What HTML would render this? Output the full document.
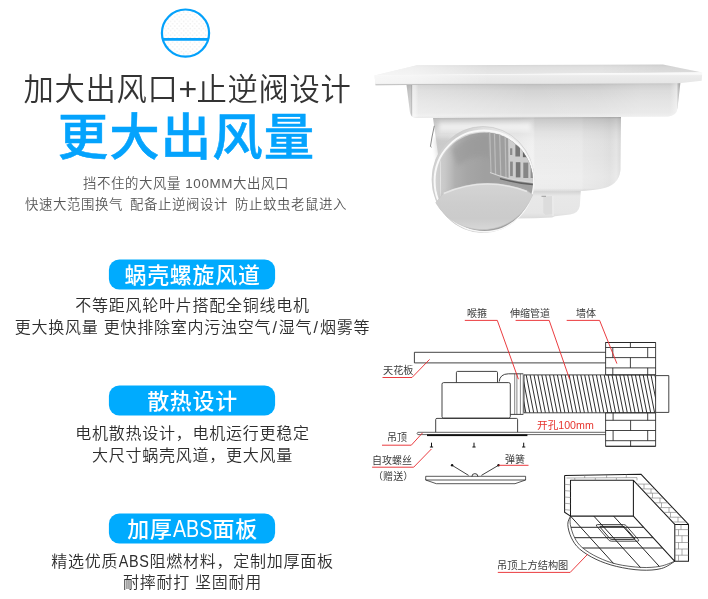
<!DOCTYPE html>
<html lang="zh-CN">
<head>
<meta charset="utf-8">
<title>加大出风口+止逆阀设计</title>
<style>
html,body{margin:0;padding:0;background:#fff;}
body{width:708px;height:599px;position:relative;overflow:hidden;font-family:"Liberation Sans","Noto Sans CJK SC",sans-serif;color:#333;}
.t,.pill{will-change:transform;}
.t{position:absolute;white-space:nowrap;text-align:center;line-height:1;}
.h1{left:1px;width:373px;top:73px;font-size:30.3px;letter-spacing:0.7px;font-weight:350;color:#333;}
.h2{left:1px;width:371px;top:113.4px;font-size:50.4px;letter-spacing:1.1px;font-weight:500;-webkit-text-stroke:0.55px #04a3fd;color:#04a3fd;}
.sub{left:0.3px;width:372px;font-size:13.4px;letter-spacing:0.6px;font-weight:350;color:#585858;}
.pill{position:absolute;left:108.8px;width:166.3px;height:30px;font-weight:500;color:#fff;font-size:21.9px;letter-spacing:0.8px;text-indent:0.8px;text-align:center;line-height:32.2px;white-space:nowrap;overflow:hidden;}
.lb{font-size:10px;font-weight:400;color:#3c3c3c;text-align:left;}
.red{color:#e6352f;font-size:10.65px;font-weight:400;}
.abs{display:inline-block;transform:scale(0.9,1.05);transform-origin:50% 72%;margin:0 -0.095em;line-height:1;}
.pill .abs{letter-spacing:0;margin:0 -0.09em 0 -0.13em;}
.sl{padding:0 1.2px;}
.d{left:0.4px;width:385px;font-size:16px;letter-spacing:0.75px;font-weight:350;color:#2e2e2e;}
</style>
</head>
<body>
<svg style="position:absolute;left:0;top:0" width="708" height="599" viewBox="0 0 708 599">

  <defs>
    <linearGradient id="gTop" x1="0" y1="0" x2="0" y2="1"><stop offset="0" stop-color="#d6d6d6"/><stop offset="0.25" stop-color="#e0e0e0"/><stop offset="1" stop-color="#e8e8e8"/></linearGradient>
    <linearGradient id="gPanelH" gradientUnits="userSpaceOnUse" x1="374" y1="0" x2="703" y2="0"><stop offset="0" stop-color="#fff" stop-opacity="0.6"/><stop offset="0.12" stop-color="#fff" stop-opacity="0.5"/><stop offset="0.35" stop-color="#fff" stop-opacity="0"/><stop offset="1" stop-color="#fff" stop-opacity="0"/></linearGradient>
    <linearGradient id="gTopR" gradientUnits="userSpaceOnUse" x1="600" y1="0" x2="703" y2="0"><stop offset="0" stop-color="#000" stop-opacity="0"/><stop offset="0.6" stop-color="#000" stop-opacity="0.04"/><stop offset="1" stop-color="#000" stop-opacity="0.05"/></linearGradient>
    <linearGradient id="gRing" gradientUnits="userSpaceOnUse" x1="432" y1="0" x2="534" y2="0"><stop offset="0" stop-color="#d2d2d2"/><stop offset="0.25" stop-color="#cccccc"/><stop offset="0.5" stop-color="#dedede"/><stop offset="0.8" stop-color="#ececec"/><stop offset="1" stop-color="#eeeeee"/></linearGradient>
    <linearGradient id="gFront" x1="0" y1="0" x2="0" y2="1"><stop offset="0" stop-color="#fbfbfb"/><stop offset="0.16" stop-color="#f8f8f8"/><stop offset="0.26" stop-color="#ececec"/><stop offset="0.85" stop-color="#e6e6e6"/><stop offset="0.93" stop-color="#c8c8c8"/><stop offset="1" stop-color="#a8a8a8"/></linearGradient>
    <linearGradient id="gTrayV" gradientUnits="userSpaceOnUse" x1="0" y1="84" x2="0" y2="118"><stop offset="0" stop-color="#bcbcbc"/><stop offset="0.06" stop-color="#c8c8c8"/><stop offset="0.2" stop-color="#d3d3d3"/><stop offset="0.5" stop-color="#dddddd"/><stop offset="0.85" stop-color="#e5e5e5"/><stop offset="0.95" stop-color="#ececec"/><stop offset="1" stop-color="#c4c4c4"/></linearGradient>
    <linearGradient id="gTrayH" gradientUnits="userSpaceOnUse" x1="406" y1="0" x2="681" y2="0"><stop offset="0" stop-color="#000" stop-opacity="0.1"/><stop offset="0.018" stop-color="#000" stop-opacity="0.06"/><stop offset="0.024" stop-color="#fff" stop-opacity="0.6"/><stop offset="0.034" stop-color="#fff" stop-opacity="0.55"/><stop offset="0.045" stop-color="#fff" stop-opacity="0.3"/><stop offset="0.15" stop-color="#fff" stop-opacity="0.22"/><stop offset="0.45" stop-color="#fff" stop-opacity="0"/><stop offset="0.7" stop-color="#fff" stop-opacity="0.05"/><stop offset="0.85" stop-color="#fff" stop-opacity="0.2"/><stop offset="0.96" stop-color="#fff" stop-opacity="0.2"/><stop offset="0.985" stop-color="#fff" stop-opacity="0.5"/><stop offset="1" stop-color="#000" stop-opacity="0.06"/></linearGradient>
    <linearGradient id="gBodyH" gradientUnits="userSpaceOnUse" x1="434" y1="0" x2="621" y2="0"><stop offset="0" stop-color="#dedede"/><stop offset="0.04" stop-color="#e6e6e6"/><stop offset="0.45" stop-color="#ececec"/><stop offset="0.53" stop-color="#f2f2f2"/><stop offset="0.54" stop-color="#ebebeb"/><stop offset="0.79" stop-color="#eaeaea"/><stop offset="0.8" stop-color="#e6e6e6"/><stop offset="0.9" stop-color="#e2e2e2"/><stop offset="0.94" stop-color="#dedede"/><stop offset="0.975" stop-color="#e5e5e5"/><stop offset="1" stop-color="#d8d8d8"/></linearGradient>
    <linearGradient id="gBodyV" gradientUnits="userSpaceOnUse" x1="0" y1="117" x2="0" y2="192"><stop offset="0" stop-color="#000" stop-opacity="0.28"/><stop offset="0.025" stop-color="#000" stop-opacity="0.15"/><stop offset="0.1" stop-color="#000" stop-opacity="0.095"/><stop offset="0.2" stop-color="#000" stop-opacity="0.04"/><stop offset="0.32" stop-color="#000" stop-opacity="0.01"/><stop offset="0.5" stop-color="#fff" stop-opacity="0"/><stop offset="0.8" stop-color="#fff" stop-opacity="0.2"/><stop offset="0.95" stop-color="#fff" stop-opacity="0.1"/><stop offset="1" stop-color="#000" stop-opacity="0.08"/></linearGradient>
    <linearGradient id="gDuctIn" gradientUnits="userSpaceOnUse" x1="436" y1="0" x2="533" y2="0"><stop offset="0" stop-color="#d2d2d2"/><stop offset="0.093" stop-color="#c8c8c8"/><stop offset="0.144" stop-color="#bdbdbd"/><stop offset="0.196" stop-color="#b0b0b0"/><stop offset="0.32" stop-color="#a6a6a6"/><stop offset="0.5" stop-color="#a0a0a0"/><stop offset="1" stop-color="#a0a0a0"/></linearGradient>
    <linearGradient id="gFlap" gradientUnits="userSpaceOnUse" x1="0" y1="184" x2="0" y2="230"><stop offset="0" stop-color="#d4d4d4"/><stop offset="0.45" stop-color="#cdcdcd"/><stop offset="0.75" stop-color="#cbcbcb"/><stop offset="1" stop-color="#d8d8d8"/></linearGradient>
    <linearGradient id="gProt" x1="0" y1="0" x2="0" y2="1"><stop offset="0" stop-color="#d2d2d2"/><stop offset="0.18" stop-color="#e8e8e8"/><stop offset="0.8" stop-color="#e6e6e6"/><stop offset="1" stop-color="#dadada"/></linearGradient>
    <clipPath id="cDuct"><ellipse cx="484.5" cy="181.7" rx="48.5" ry="49.2"/></clipPath>
    <filter id="b2" x="-20%" y="-20%" width="140%" height="140%"><feGaussianBlur stdDeviation="2"/></filter>
    <filter id="b1" x="-20%" y="-20%" width="140%" height="140%"><feGaussianBlur stdDeviation="0.6"/></filter>
  </defs>
  <g id="product">
    <!-- tray -->
    <path d="M406.4 84 L680.5 82 L677.5 108 Q676.5 116 668 116.5 L416 117.5 Q410.5 117.5 409.9 112 Z" fill="url(#gTrayV)"/>
    <path d="M406.4 84 L680.5 82 L677.5 108 Q676.5 116 668 116.5 L416 117.5 Q410.5 117.5 409.9 112 Z" fill="url(#gTrayH)"/>
    <!-- lower body -->
    <path d="M433 118 L621 117 L620.5 170 Q619 186 600 189 Q585 191.5 565 191.3 L521 193 L470 200 L438.5 158 Z" fill="url(#gBodyH)"/>
    <path d="M433 118 L621 117 L620.5 170 Q619 186 600 189 Q585 191.5 565 191.3 L521 193 L470 200 L438.5 158 Z" fill="url(#gBodyV)"/>
    <path d="M434 138 L452 138 L452 172 L439 172 L436 152 Z" fill="#000" opacity="0.11" filter="url(#b2)"/>
    <path d="M439 122.5 L531 122.5 L531 131 L439 131 Z" fill="#fff" opacity="0.6" filter="url(#b2)"/>
    <!-- bottom protrusion -->
    <path d="M512 191.5 L580.8 191 L579.8 206 Q578.5 213.5 570 214.5 L555 216.3 L552 217.5 L535 218.3 L514 218.6 Z" fill="url(#gProt)"/>
    <path d="M543.3 196.5 L552.6 196 L552.6 214 L545.5 215 L543.3 212.5 Z" fill="#dcdcdc"/>
    <path d="M541.5 196.3 L546 196.3" stroke="#8a8a8a" stroke-width="0.8" fill="none"/>
    <path d="M552.8 196 L553 216" stroke="#f0f0f0" stroke-width="1" fill="none"/>
    <!-- panel -->
    <path d="M374.5 75.5 L417 65.3 L663 64.6 L702.3 72.6 Z" fill="url(#gTop)"/>
    <path d="M600 64.8 L663 64.6 L702.3 72.6 L600 73.5 Z" fill="url(#gTopR)"/>
    <path d="M374.5 75.2 L702.3 72.3 L701.7 80.8 L679 83.2 L375.5 85.2 Z" fill="url(#gFront)"/>
    <path d="M374.5 75.5 L417 65.3 L663 64.6 L702.3 72.6 L701.7 80.8 L679 82.6 L375.5 84.2 Z" fill="url(#gPanelH)"/>
    <!-- spring clip -->
    <path d="M434.3 125.8 L432 137 L430.4 146.5 L431.6 147.2" fill="none" stroke="#8a8a8a" stroke-width="1"/>
    <!-- duct -->
    <ellipse cx="483" cy="179.5" rx="51" ry="53" fill="url(#gRing)" stroke="#c8c8c8" stroke-width="0.7"/>
    <ellipse cx="484" cy="181" rx="49.4" ry="50.4" fill="none" stroke="#f8f8f8" stroke-width="2"/>
    <ellipse cx="484.5" cy="181.7" rx="48.5" ry="49.2" fill="url(#gDuctIn)"/>
    <g clip-path="url(#cDuct)">
      <path d="M452 150 Q470 132 495 134 L495 160 Q475 150 458 166 Z" fill="#969696" filter="url(#b2)" opacity="0.55"/>
      <path d="M440.2 160 L440.8 200" stroke="#e4e4e4" stroke-width="1" fill="none" filter="url(#b1)"/>
      <path d="M440 196 Q485 176 530 193 L530 203 L440 206 Z" fill="#bcbcbc" filter="url(#b2)" opacity="0.8"/>
      <!-- fan -->
      <path d="M487.3 128 L540 128 L540 183 Q510 181 490 172 Z" fill="#9e9e9e"/>
      <g stroke="#bcbcbc" stroke-width="1.2" fill="none">
        <path d="M489.6 128 L491 172.4"/><path d="M494.3 128 L495.6 174.4"/><path d="M499.5 128 L500.8 176.4"/><path d="M505 130 L506 178"/>
      </g>
      <path d="M508 128 L540 128 L540 183 Q522 182 508.6 178.6 Z" fill="#cdcdcd"/>
      <g fill="#7c7c7c"><rect x="510.1" y="148.3" width="2.2" height="6.7" fill="#8a8a8a"/><rect x="515.4" y="144.5" width="4.6" height="12" fill="#787878"/><rect x="522.9" y="151" width="5" height="6.2" fill="#666"/><rect x="510.1" y="161.6" width="2.7" height="14.5" fill="#8a8a8a"/><rect x="515.8" y="162.2" width="4.6" height="15.2" fill="#777"/><rect x="523.3" y="162.6" width="5" height="15.4" fill="#868686"/><rect x="530.6" y="163" width="3" height="15" fill="#909090"/></g>
      <path d="M490 172.6 Q510 180.8 536 182.8" fill="none" stroke="#d6d6d6" stroke-width="1.1"/>
      <path d="M500 178.6 Q516 183.2 536 184.8" fill="none" stroke="#5e5e5e" stroke-width="1.4" filter="url(#b1)"/>
    </g>
    <!-- flap -->
    <path d="M435.8 202.7 L443.7 193 Q485 175 527 191 L532.7 194.8 A53.8 53.8 0 0 1 435.8 202.7 Z" fill="url(#gFlap)" stroke="#c6c6c6" stroke-width="0.7"/>
    <path d="M443.7 193.5 Q485 175.5 527 191.5" fill="none" stroke="#e6e6e6" stroke-width="1.5"/>
  </g>

  <g id="diagram" fill="none" stroke="#222" stroke-width="0.85">
    <!-- ceiling board -->
    <path d="M605.6 352.3 H414.4 V362.9 H605.6"/>
    <!-- wall -->
    <path d="M605.6 342.5 H655.6 V374.9 M655.6 412.8 V446.3 H605.6 V412.8 M605.6 374.9 V342.5"/>
    <path d="M605.6 342.5 H655.6 M605.6 347.5 H655.6 M605.6 357.6 H655.6 M605.6 367.9 H655.6 M605.6 374.9 H655.6 M630.4 342.5 V347.5 M612.8 347.5 V357.6 M647.7 347.5 V357.6 M630.4 357.6 V367.9 M612.8 367.9 V374.9 M647.7 367.9 V374.9"/>
    <path d="M605.6 412.8 H655.6 M605.6 420.3 H655.6 M605.6 430.5 H655.6 M605.6 440.7 H655.6 M605.6 446.3 H655.6 M613.1 412.8 V420.3 M647.7 412.8 V420.3 M630.6 420.3 V430.5 M613.1 430.5 V440.7 M647.7 430.5 V440.7 M630.6 440.7 V446.3"/>
    <!-- flexible duct -->
    <clipPath id="cFlex"><rect x="524" y="374.9" width="131.6" height="37.9"/></clipPath>
    <path d="M524 374.9 H655.6 M524 412.8 H655.6 M524 374.9 V412.8"/>
    <path clip-path="url(#cFlex)" d="M514.5 374.9 l7.5 37.9 M518.4 374.9 l7.5 37.9 M522.3 374.9 l7.5 37.9 M526.2 374.9 l7.5 37.9 M530.1 374.9 l7.5 37.9 M534.0 374.9 l7.5 37.9 M537.9 374.9 l7.5 37.9 M541.8 374.9 l7.5 37.9 M545.7 374.9 l7.5 37.9 M549.6 374.9 l7.5 37.9 M553.5 374.9 l7.5 37.9 M557.4 374.9 l7.5 37.9 M561.3 374.9 l7.5 37.9 M565.2 374.9 l7.5 37.9 M569.1 374.9 l7.5 37.9 M573.0 374.9 l7.5 37.9 M576.9 374.9 l7.5 37.9 M580.8 374.9 l7.5 37.9 M584.7 374.9 l7.5 37.9 M588.6 374.9 l7.5 37.9 M592.5 374.9 l7.5 37.9 M596.4 374.9 l7.5 37.9 M600.3 374.9 l7.5 37.9 M604.2 374.9 l7.5 37.9 M608.1 374.9 l7.5 37.9 M612.0 374.9 l7.5 37.9 M615.9 374.9 l7.5 37.9 M619.8 374.9 l7.5 37.9 M623.7 374.9 l7.5 37.9 M627.6 374.9 l7.5 37.9 M631.5 374.9 l7.5 37.9 M635.4 374.9 l7.5 37.9 M639.3 374.9 l7.5 37.9 M643.2 374.9 l7.5 37.9 M647.1 374.9 l7.5 37.9 M651.0 374.9 l7.5 37.9 M654.9 374.9 l7.5 37.9" stroke-width="0.95"/>
    <path d="M655.6 375.6 H668.8 V412.4 H655.6 Z"/>
    <!-- clamp + elbow -->
    <path d="M499.2 381.6 Q499.8 374 508.4 373.8 H523.2 M510.4 414.4 H523.2"/>
    <path d="M514.7 373.8 V414.4 M516.9 373.8 V414.4 M520.4 373.8 V414.4 M523.2 373.8 V414.4" stroke="#444" stroke-width="0.65"/>
    <!-- motor boxes -->
    <path d="M456.4 382.4 V372.6 Q456.4 371.4 457.6 371.4 H496.3 Q497.5 371.4 497.5 372.6 V382.4"/>
    <rect x="442" y="382.6" width="68.3" height="35.5" rx="1.6" ry="1.6"/>
    <path d="M435.7 432.2 V419.6 Q435.7 418.4 436.9 418.4 H516.4 Q517.6 418.4 517.6 419.6 V432.2"/>
    <!-- suspended ceiling plate -->
    <path d="M605.6 432.3 H417.8 Q416.4 433.4 417.8 434.6 H605.6" stroke-width="0.7"/>
    <rect x="427" y="434.3" width="100.4" height="1.8" fill="#111" stroke="none"/>
    <!-- screws -->
    <path d="M431.5 442.7 V447 M429.9 447 H433.1 M474 442.7 V447 M472.4 447 H475.6 M523.7 442.7 V447 M522.1 447 H525.3" stroke="#111" stroke-width="1"/>
    <!-- spring -->
    <path d="M452.1 465.3 L468.6 475.4 M498.5 465.3 L481.4 475.4 M471.9 476.6 A3 3 0 0 1 477.9 476.6"/>
    <circle cx="452.1" cy="465.3" r="1.2" fill="#111" stroke="none"/><circle cx="498.5" cy="465.3" r="1.2" fill="#111" stroke="none"/>
    <!-- cover -->
    <path d="M425.7 476.3 H525.6 V480 L515 483.7 H436.3 L425.7 480 Z M425.7 480 H525.6" stroke-width="0.75"/>
  </g>

  <g id="struct" fill="none" stroke="#1c1c1c" stroke-width="0.9" stroke-linejoin="round">
    <clipPath id="cFloor"><path d="M674.8 561.3 C672.3 562.1 665.6 565.3 660.0 566.3 C654.4 567.3 648.2 567.8 641.0 567.4 C633.8 567.0 624.2 565.9 617.0 564.2 C609.8 562.5 603.8 560.1 598.0 557.4 C592.2 554.7 586.4 551.1 582.5 547.8 C578.6 544.5 576.5 541.4 574.5 537.5 C572.5 533.6 571.0 528.1 570.3 524.5 C569.6 520.9 570.5 517.5 570.5 516.1 L633.4 516.1 L674.8 561.3 Z"/></clipPath>
    <path d="M564.6 475.6 L640.9 474.2 L688.5 524.4 V561.3 H674.8 V524.4 L633.4 480.3 H570.5 V516.1 H633.4 V480.3 M633.4 516.1 L674.8 561.3 M564.6 475.6 V512.3 L570.5 516.1 M674.8 524.4 H688.5" stroke-width="1.05"/>
    <path d="M570.5 516.1 C570.0 517.5 567.6 520.9 567.8 524.5 C567.9 528.1 569.4 533.7 571.4 537.8 C573.4 541.9 575.5 545.4 579.6 549.0 C583.7 552.6 589.9 556.4 596.0 559.3 C602.1 562.2 608.9 564.6 616.4 566.4 C623.9 568.2 633.5 569.8 641.0 570.1 C648.5 570.5 655.9 570.0 661.5 568.5 C667.1 567.0 672.6 562.5 674.8 561.3" stroke-width="0.8"/>
    <path d="M570.5 516.1 C570.5 517.5 569.6 520.9 570.3 524.5 C571.0 528.1 572.5 533.6 574.5 537.5 C576.5 541.4 578.6 544.5 582.5 547.8 C586.4 551.1 592.2 554.7 598.0 557.4 C603.8 560.1 609.8 562.5 617.0 564.2 C624.2 565.9 633.8 567.0 641.0 567.4 C648.2 567.8 654.4 567.3 660.0 566.3 C665.6 565.3 672.3 562.1 674.8 561.3" stroke-width="0.7"/>
    <path clip-path="url(#cFloor)" d="M560 527.3 H643.6 M560 537.7 H653.0 M560 548.0 H662.4 M570.5 516.1 L625.0 576.1 M593.8 516.1 L648.3 576.1 M613.6 516.1 L668.1 576.1" stroke-width="0.95"/>
    <path d="M597.5 524.6 H623.5 Q625.3 524.6 626.5 526 L638.3 539.6 Q639.5 541.2 637.5 541.2 H611.5 Q609.7 541.2 608.5 539.8 L596.7 526.2 Q595.5 524.6 597.5 524.6 Z" stroke-width="0.8"/>
    <path d="M600 526.4 H622.8 Q624.3 526.4 625.2 527.5 L634.4 538.2 Q635.3 539.4 633.8 539.4 H612 Q610.5 539.4 609.6 538.3 L600.4 527.6 Q599.5 526.4 600 526.4 Z" stroke-width="0.9"/>
    <g stroke="#777" stroke-width="0.6">
      <path d="M566.5 478 L637 477.6 M584.7 475.3 V478 M606.6 474.9 V477.8 M626.3 474.5 V477.7 M574.8 478 V480.3 M595.3 478 V480.3 M616.4 478 V480.3 M637 477.6 V480.3"/>
      <path d="M564.6 484.3 L570.5 484.8 M564.6 490.6 L570.5 491.1 M564.6 497 L570.5 497.5 M564.6 503.3 L570.5 503.8 M564.6 509.6 L570.5 510.2"/>
      <path d="M637 484.1 H650.3 M641.5 488.9 H654.8 M645.5 493.2 H659 M650 498 H663.5 M654.5 502.8 H668 M659 507.6 H672.5 M663.5 512.4 H677 M668 517.2 H681.5 M672.5 522 H686"/>
      <path d="M644 484.1 V488.9 M651 488.9 V493.2 M652.5 493.2 V498 M660 498 V502.8 M661.5 502.8 V507.6 M669 507.6 V512.4 M670.5 512.4 V517.2 M678 517.2 V522"/>
      <path d="M674.8 529.6 H688.5 M674.8 535.7 H688.5 M674.8 542.5 H688.5 M674.8 549 H688.5 M674.8 555.2 H688.5 M681 524.4 V529.6 M678.5 529.6 V535.7 M682 535.7 V542.5 M678.5 542.5 V549 M682 549 V555.2 M678.5 555.2 V561.3"/>
    </g>
  </g>
  <g id="leaders" fill="none" stroke="#e8262a" stroke-width="0.9">
    <path d="M464.8 320.4 H497.3 L518.4 379.2"/>
    <path d="M515.6 320.4 H549.2 L569.6 379.2"/>
    <path d="M566.7 320.4 H599.6 L616.9 363.6"/>
    <path d="M382.5 377.5 H412 L429.6 359.4"/>
    <path d="M382 445.2 H411.3 L422.6 432.8"/>
    <path d="M372.1 467.2 H413.7 L431.4 449"/>
    <path d="M498.5 465.3 H528.5"/>
    <path d="M497.8 572.4 H570.2 L587.8 554.1"/>
  </g>
  <rect x="108.9" y="259.5" width="166.2" height="30" rx="10.5" ry="10.5" fill="#00abfe"/>
  <rect x="108.9" y="385.5" width="166.2" height="30" rx="10.5" ry="10.5" fill="#00abfe"/>
  <rect x="108.9" y="513.5" width="166.2" height="30" rx="10.5" ry="10.5" fill="#00abfe"/>
  <pattern id="pDots" patternUnits="userSpaceOnUse" x="176" y="14" width="4.4" height="4.6"><rect width="4.4" height="4.6" fill="#fff"/><circle cx="1.1" cy="0.6" r="0.75" fill="#eeeeee"/><circle cx="3.3" cy="2.9" r="0.75" fill="#eeeeee"/></pattern>
  <circle cx="185.5" cy="33.1" r="23.6" fill="url(#pDots)" stroke="#03a1fb" stroke-width="2.2"/>
  <line x1="162.6" y1="39.4" x2="208.4" y2="39.4" stroke="#03a1fb" stroke-width="2.6"/>
</svg>
<div class="t h1">加大出风口<span style="font-size:32px;letter-spacing:-0.9px;line-height:1">+</span>止逆阀设计</div>
<div class="t h2">更大出风量</div>
<div class="t sub" style="top:177px">挡不住的大风量 100MM大出风口</div>
<div class="t sub" style="top:197.5px;word-spacing:2.7px">快速大范围换气 配备止逆阀设计 防止蚊虫老鼠进入</div>

<div class="pill" style="top:259.5px">蜗壳螺旋风道</div>
<div class="t d" style="top:298px">不等距风轮叶片搭配全铜线电机</div>
<div class="t d" style="top:320px">更大换风量 更快排除室内污浊空气<span class="sl">/</span>湿气<span class="sl">/</span>烟雾等</div>

<div class="pill" style="top:385.5px">散热设计</div>
<div class="t d" style="top:426px">电机散热设计，电机运行更稳定</div>
<div class="t d" style="top:448px">大尺寸蜗壳风道，更大风量</div>

<div class="pill" style="top:513.5px">加厚<span class="abs">ABS</span>面板</div>
<div class="t d" style="top:554px">精选优质<span class="abs">ABS</span>阻燃材料，定制加厚面板</div>
<div class="t d" style="top:575px">耐摔耐打 坚固耐用</div>

<div class="t lb" style="left:467px;top:308.9px">喉箍</div>
<div class="t lb" style="left:510px;top:308.9px">伸缩管道</div>
<div class="t lb" style="left:576px;top:308.9px">墙体</div>
<div class="t lb" style="left:382.6px;top:366.4px;font-size:10.2px">天花板</div>
<div class="t lb" style="left:387px;top:433px">吊顶</div>
<div class="t lb" style="left:372.2px;top:456.4px">自攻螺丝</div>
<div class="t lb" style="left:372.8px;top:472.2px;letter-spacing:0.1px">（赠送）</div>
<div class="t lb" style="left:504.8px;top:455px">弹簧</div>
<div class="t lb" style="left:497.2px;top:560.7px;font-size:10.2px">吊顶上方结构图</div>
<div class="t lb red" style="left:536.6px;top:420.1px">开孔100mm</div>
</body>
</html>
